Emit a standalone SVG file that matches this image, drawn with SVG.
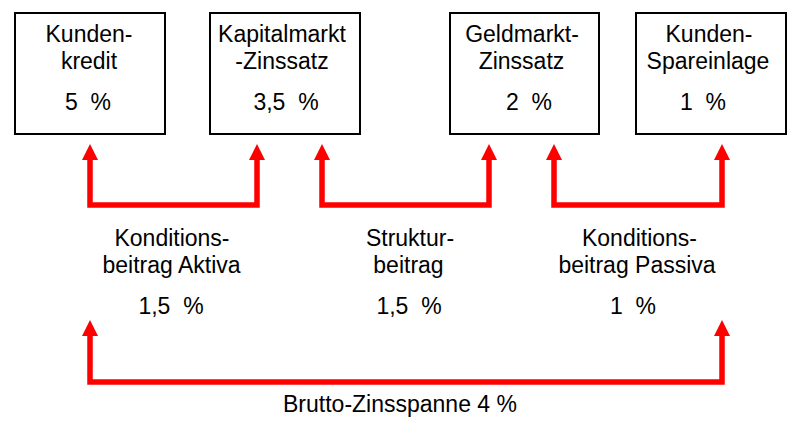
<svg xmlns="http://www.w3.org/2000/svg" width="800" height="431" viewBox="0 0 800 431">
<style>
.box{fill:#fff;stroke:#000;stroke-width:2}
.t{font-family:"Liberation Sans",Arial,sans-serif;font-size:23px;fill:#000;text-anchor:middle}
.conn{fill:none;stroke:#ff0000;stroke-width:5.5;stroke-linejoin:miter;marker-start:url(#ah);marker-end:url(#ah)}
</style>
<defs>
<marker id="ah" markerUnits="userSpaceOnUse" markerWidth="17" markerHeight="17" viewBox="0 -8.5 17 17" refX="0" refY="0" orient="auto-start-reverse" overflow="visible">
<polygon points="0,-8 16,0 0,8" fill="#ff0000"/>
</marker>
</defs>
<rect width="800" height="431" fill="#fff"/>
<g id="connectors">
<path class="conn" d="M90,160 V205 H257 V160"/>
<path class="conn" d="M322,160 V205 H489 V160"/>
<path class="conn" d="M554,160 V205 H722 V160"/>
<path class="conn" d="M90,336 V382 H722 V336"/>
</g>
<g id="kundenkredit">
<rect class="box" x="15" y="13" width="150" height="121"/>
<text class="t" x="89" y="42">Kunden-</text>
<text class="t" x="89" y="69">kredit</text>
<text class="t" x="88" y="110" xml:space="preserve">5  %</text>
</g>
<g id="kapitalmarkt">
<rect class="box" x="210" y="13" width="150" height="121"/>
<text class="t" x="282" y="42">Kapitalmarkt</text>
<text class="t" x="282" y="69">-Zinssatz</text>
<text class="t" x="286" y="110" xml:space="preserve">3,5  %</text>
</g>
<g id="geldmarkt">
<rect class="box" x="450" y="13" width="149" height="121"/>
<text class="t" x="522" y="42">Geldmarkt-</text>
<text class="t" x="521.5" y="69">Zinssatz</text>
<text class="t" x="529" y="110" xml:space="preserve">2  %</text>
</g>
<g id="spareinlage">
<rect class="box" x="636" y="13" width="150" height="121"/>
<text class="t" x="709" y="42">Kunden-</text>
<text class="t" x="708" y="69">Spareinlage</text>
<text class="t" x="703" y="110" xml:space="preserve">1  %</text>
</g>
<g id="konditionsbeitrag-aktiva">
<text class="t" x="172" y="246">Konditions-</text>
<text class="t" x="171.5" y="273">beitrag Aktiva</text>
<text class="t" x="171" y="314" xml:space="preserve">1,5  %</text>
</g>
<g id="strukturbeitrag">
<text class="t" x="410" y="246">Struktur-</text>
<text class="t" x="408.5" y="273">beitrag</text>
<text class="t" x="409" y="314" xml:space="preserve">1,5  %</text>
</g>
<g id="konditionsbeitrag-passiva">
<text class="t" x="639.5" y="246">Konditions-</text>
<text class="t" x="637" y="273">beitrag Passiva</text>
<text class="t" x="633" y="314" xml:space="preserve">1  %</text>
</g>
<g id="bruttozinsspanne">
<text class="t" x="400" y="412">Brutto-Zinsspanne 4 %</text>
</g>
</svg>
